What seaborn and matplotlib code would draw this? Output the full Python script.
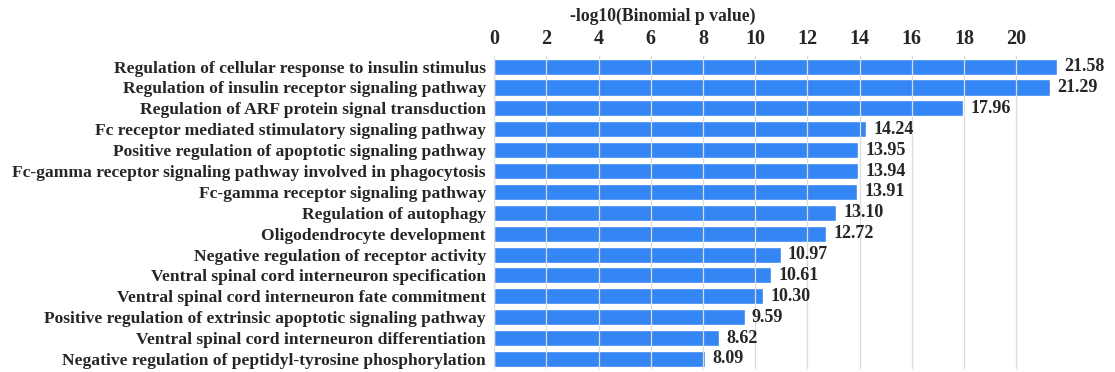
import matplotlib
matplotlib.use("Agg")
import matplotlib.pyplot as plt
import seaborn as sns
import pandas as pd

terms = [
    "Regulation of cellular response to insulin stimulus",
    "Regulation of insulin receptor signaling pathway",
    "Regulation of ARF protein signal transduction",
    "Fc receptor mediated stimulatory signaling pathway",
    "Positive regulation of apoptotic signaling pathway",
    "Fc-gamma receptor signaling pathway involved in phagocytosis",
    "Fc-gamma receptor signaling pathway",
    "Regulation of autophagy",
    "Oligodendrocyte development",
    "Negative regulation of receptor activity",
    "Ventral spinal cord interneuron specification",
    "Ventral spinal cord interneuron fate commitment",
    "Positive regulation of extrinsic apoptotic signaling pathway",
    "Ventral spinal cord interneuron differentiation",
    "Negative regulation of peptidyl-tyrosine phosphorylation",
]
values = [21.58, 21.29, 17.96, 14.24, 13.95, 13.94, 13.91, 13.10, 12.72,
          10.97, 10.61, 10.30, 9.59, 8.62, 8.09]
ticks = [0, 2, 4, 6, 8, 10, 12, 14, 16, 18, 20]

df = pd.DataFrame({"term": terms, "value": values})

sns.set_style("white")
plt.rcParams["font.family"] = ["Liberation Serif", "DejaVu Serif"]
plt.rcParams["font.weight"] = "bold"

fig = plt.figure(figsize=(11.15, 3.72), dpi=100)
ax = fig.add_axes([0.4433, 0.007, 0.506, 0.842])

sns.barplot(data=df, x="value", y="term", orient="h", color="#3486F4",
            saturation=1, width=0.77, ax=ax, zorder=2)

ax.set_xlim(0, 21.62)
ax.set_ylim(len(terms) - 0.5, -0.5)
ax.set_xticks(ticks)
ax.xaxis.tick_top()
ax.tick_params(axis="x", length=0, pad=5, labelsize=14.5)
ax.tick_params(axis="y", length=0, pad=6, labelsize=12.6)
for lab in ax.get_xticklabels() + ax.get_yticklabels():
    lab.set_fontweight("bold")
ax.set_xlabel("")
ax.set_ylabel("")
ax.grid(axis="x", color="#dcdcdc", linewidth=0.9, zorder=3)
ax.set_axisbelow(False)
for s in ax.spines.values():
    s.set_visible(False)

for i, v in enumerate(values):
    ax.text(v + 0.28, i, f"{v:.2f}", va="center", ha="left",
            fontsize=13, fontweight="bold", clip_on=False)

fig.text(663 / 1115, 1 - 16 / 372, "-log10(Binomial p value)", ha="center",
         va="center", fontsize=12.7, fontweight="bold")

fig.savefig("out.png", dpi=100)
